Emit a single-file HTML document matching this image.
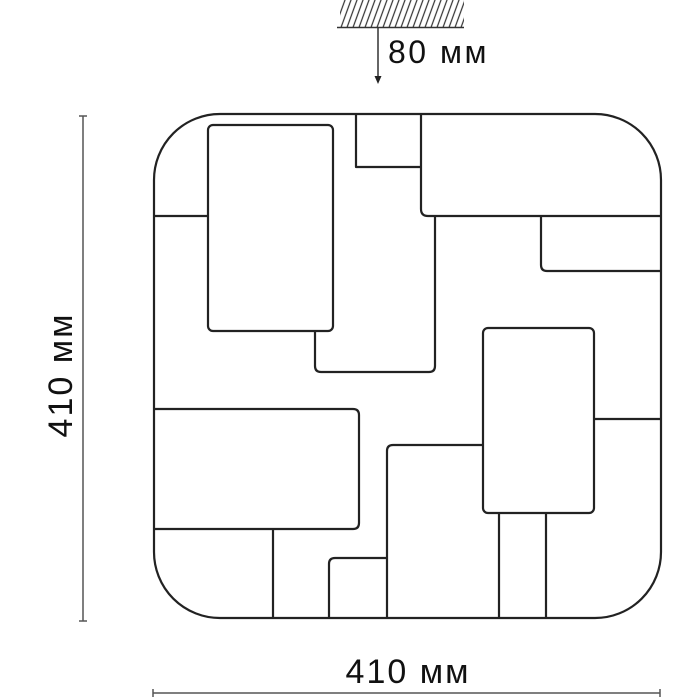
<!DOCTYPE html>
<html><head><meta charset="utf-8"><style>
html,body{margin:0;padding:0;background:#fff;width:700px;height:700px;overflow:hidden}
svg{display:block}
text{font-family:"Liberation Sans",sans-serif;fill:#111}
</style></head><body>
<svg width="700" height="700" viewBox="0 0 700 700" xmlns="http://www.w3.org/2000/svg">
<defs>
<pattern id="h" width="6" height="27" patternUnits="userSpaceOnUse" patternTransform="skewX(-20)">
<line x1="3" y1="0" x2="3" y2="27" stroke="#333" stroke-width="1.3"/>
</pattern>
<clipPath id="c"><rect x="340" y="0" width="124" height="27"/></clipPath>
</defs>
<rect x="330" y="0" width="150" height="27" fill="url(#h)" clip-path="url(#c)"/>
<line x1="337" y1="27.5" x2="464" y2="27.5" stroke="#333" stroke-width="1.5"/>
<line x1="378" y1="28" x2="378" y2="78" stroke="#333" stroke-width="1.5"/>
<polygon points="374.5,76 381.5,76 378,84" fill="#222"/>
<text x="388" y="63" font-size="32" letter-spacing="2.5">80 мм</text>

<line x1="83" y1="116" x2="83" y2="621" stroke="#555" stroke-width="1.5"/>
<line x1="79" y1="116" x2="87" y2="116" stroke="#555" stroke-width="1.5"/>
<line x1="79" y1="621" x2="87" y2="621" stroke="#555" stroke-width="1.5"/>
<text x="0" y="0" font-size="34" letter-spacing="2" text-anchor="middle" transform="translate(72,375) rotate(-90)">410 мм</text>

<line x1="153" y1="693" x2="660" y2="693" stroke="#555" stroke-width="1.5"/>
<line x1="153" y1="689" x2="153" y2="697" stroke="#555" stroke-width="1.5"/>
<line x1="660" y1="689" x2="660" y2="697" stroke="#555" stroke-width="1.5"/>
<text x="408" y="683" font-size="34" letter-spacing="2" text-anchor="middle">410 мм</text>

<g fill="none" stroke="#222" stroke-width="2.2" stroke-linejoin="round">
<rect x="154" y="114" width="507" height="504" rx="66" ry="66"/>
<rect x="208" y="125" width="125" height="206" rx="5"/>
<polyline points="356,114 356,167 421,167"/>
<path d="M421,114 V209 Q421,216 428,216 H661"/>
<line x1="154" y1="216" x2="208" y2="216"/>
<path d="M435,216 V366 Q435,372 429,372 H321 Q315,372 315,366 V331"/>
<path d="M541,216 V265 Q541,271 547,271 H661"/>
<rect x="483" y="328" width="111" height="185" rx="5"/>
<line x1="594" y1="419" x2="661" y2="419"/>
<path d="M154,409 H353 Q359,409 359,415 V523 Q359,529 353,529 H154"/>
<line x1="273" y1="529" x2="273" y2="618"/>
<path d="M483,445 H393 Q387,445 387,451 V618"/>
<path d="M387,558 H335 Q329,558 329,564 V618"/>
<line x1="499" y1="513" x2="499" y2="618"/>
<line x1="546" y1="513" x2="546" y2="618"/>
</g>
</svg>
</body></html>
